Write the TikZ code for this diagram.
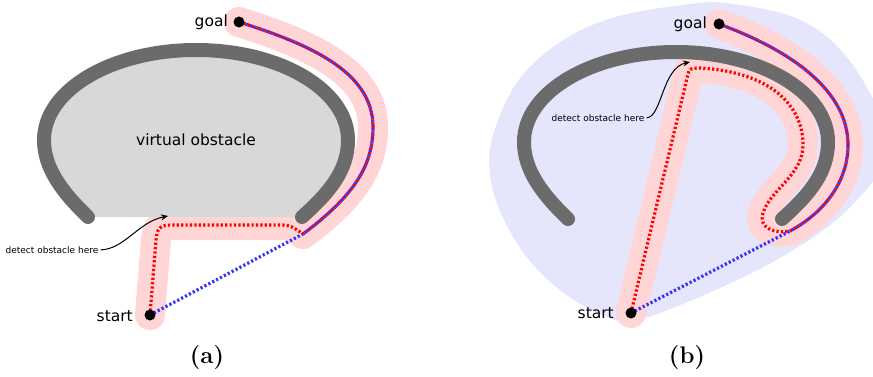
\documentclass[tikz,border=0pt]{standalone}
\usepackage{fontspec}
\newfontfamily\vera{DejaVu Sans}
\usetikzlibrary{arrows.meta}
\definecolor{wallgray}{RGB}{107,107,107}
\definecolor{fillgray}{RGB}{216,216,216}
\definecolor{bandpink}{RGB}{255,213,213}
\definecolor{reachblue}{RGB}{229,229,251}
\definecolor{pathred}{RGB}{255,0,0}
\definecolor{pathblue}{RGB}{51,51,255}
\tikzset{
  wallarc/.style={insert path={(88,217) .. controls (62,192) and (44,168) .. (44,140)
    .. controls (44,90) and (112,50) .. (196,50) .. controls (280,50) and (348,90) .. (348,140)
    .. controls (348,170) and (330,192) .. (302,217)}},
}
\begin{document}
\begin{tikzpicture}[x=1pt,y=-1pt,
  wall/.style={color=wallgray,line width=14pt,line cap=round},
  band/.style={color=bandpink,line width=30pt,line cap=round,line join=round},
  redpath/.style={color=pathred,line width=3.2pt,dash pattern=on 2.2pt off 2.2pt},
  bluepath/.style={color=pathblue,line width=3.2pt,dash pattern=on 2.2pt off 2.2pt},
  shared/.style={dash phase=2.2pt},
  dot/.style={circle,fill=black,inner sep=0pt,minimum size=11pt},
  lbl/.style={font=\vera\fontsize{15.5}{18}\selectfont,inner sep=0pt},
  note/.style={font=\vera\fontsize{9}{11}\selectfont,inner sep=0pt},
  hint/.style={-{Stealth[length=7pt,width=6pt]},line width=1pt},
  sublabel/.style={font=\fontsize{24}{28}\selectfont\bfseries,inner sep=0pt},
  routea/.style={insert path={(sa.center) -- (156,240) .. controls (157,228) and (160,225) .. (172,225)
    -- (282,225) .. controls (292,225) and (297,230) .. (ja)}},
  outera/.style={insert path={(ja) .. controls (355,195) and (373,165) .. (373,127)
    .. controls (373,70) and (305,43) .. (ga.center)}},
  routeb/.style={insert path={(sb.center) -- (688,74) .. controls (689,69) and (691,68) .. (700,68)
    .. controls (770,72) and (803,105) .. (803,145) .. controls (803,175) and (770,190) .. (763,213)
    .. controls (758,228) and (775,234) .. (jb)}},
  outerb/.style={insert path={(jb) .. controls (820,215) and (848,185) .. (848,145)
    .. controls (848,90) and (790,50) .. (gb.center)}}]
\useasboundingbox (0,0) rectangle (873,377);

% (a) obstacle closed off as a virtual one
\node[dot] (sa) at (150,315) {};
\node[dot] (ga) at (239,22) {};
\coordinate (ja) at (303,234);
\draw[band,routea] -- (ja) [outera];
\fill[fillgray,wallarc] -- cycle;
\draw[wall,wallarc];
\node[lbl,anchor=base] (voa) at (196,146) {virtual obstacle};
\draw[redpath,routea];
\draw[bluepath] (sa.center) -- (ja);
\draw[redpath,outera];
\draw[bluepath,shared,outera];
\node[dot] at (sa) {};
\node[dot] at (ga) {};
\node[lbl,anchor=base east] (sal) at (133,321) {start};
\node[lbl,anchor=base east] (gal) at (228,27) {goal};
\node[note] (da) at (52,250) {detect obstacle here};
\coordinate (hita) at (168,216);
\draw[hint,shorten <=2pt] (da.east) .. controls (125,249) and (138,222) .. (hita);
\node[sublabel] (capa) at (207,358) {(a)};

% (b) reachable region around the real obstacle
\begin{scope}
\clip (0,0) rectangle (873,377);
\fill[reachblue] plot[smooth cycle,tension=0.65] coordinates {(690,4) (600,22) (535,62)
  (500,115) (490,175) (515,240) (560,290) (615,320) (645,318) (720,288) (790,252)
  (845,212) (885,160) (880,115) (845,55) (800,20) (740,5)};
\end{scope}
\node[dot] (sb) at (631,313) {};
\node[dot] (gb) at (719,24) {};
\coordinate (jb) at (790,231);
\draw[band,routeb] -- (jb) [outerb];
\draw[wall,shift={(480,2)},wallarc];
\draw[redpath,routeb];
\draw[bluepath] (sb.center) -- (jb);
\draw[redpath,outerb];
\draw[bluepath,shared,outerb];
\node[dot] at (sb) {};
\node[dot] at (gb) {};
\node[lbl,anchor=base east] (sbl) at (614,318) {start};
\node[lbl,anchor=base east] (gbl) at (707,29) {goal};
\node[note] (db) at (598,118) {detect obstacle here};
\coordinate (hitb) at (690,62);
\draw[hint,shorten <=2pt] (db.east) .. controls (662,117) and (662,68) .. (hitb);
\node[sublabel] (capb) at (687,358) {(b)};
\end{tikzpicture}
\end{document}
